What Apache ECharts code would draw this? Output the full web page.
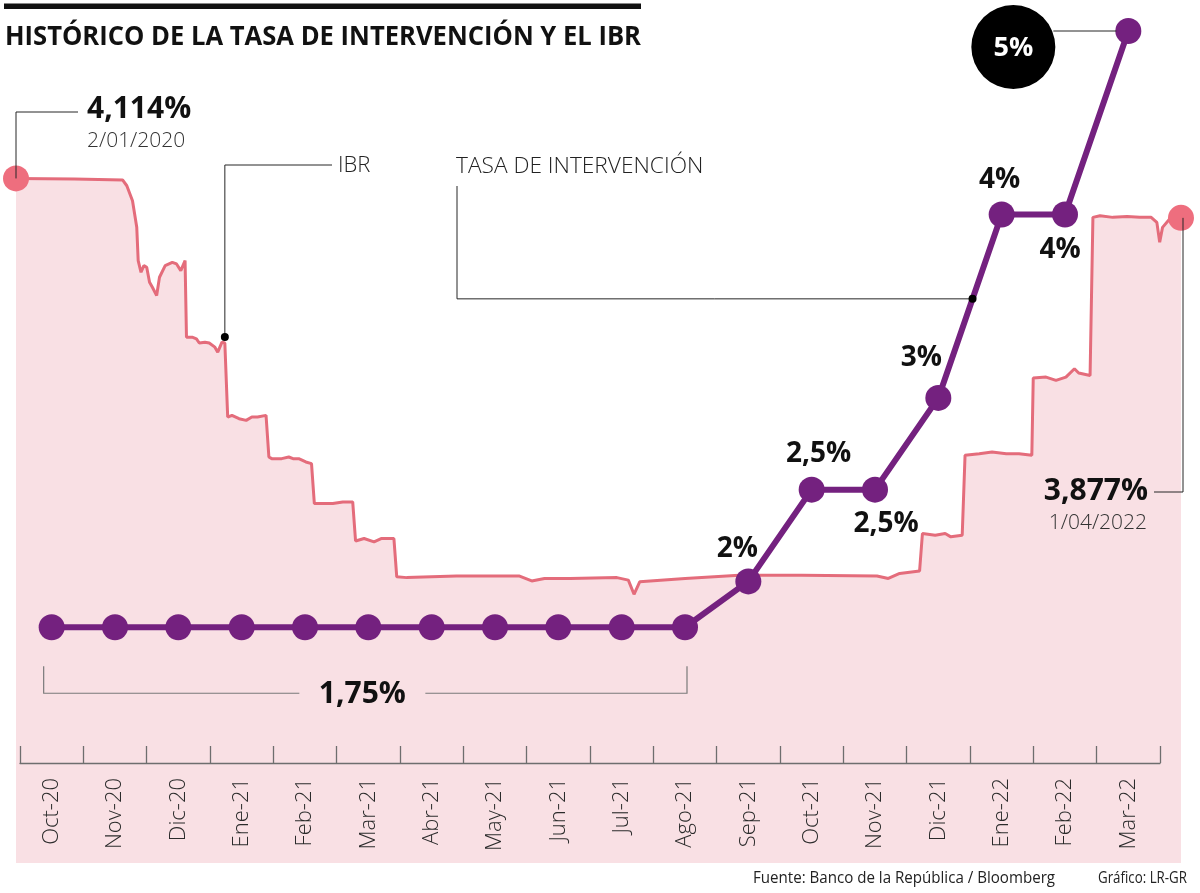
<!DOCTYPE html>
<html><head><meta charset="utf-8">
<script src="https://cdn.jsdelivr.net/npm/echarts@6/dist/echarts.min.js"></script>
<style>html,body{margin:0;padding:0;background:#fff}#c{width:1200px;height:893px}</style>
</head><body><div id="c"></div>
<script>
// ---------- DATA ----------
const months = ['Oct-20','Nov-20','Dic-20','Ene-21','Feb-21','Mar-21','Abr-21','May-21','Jun-21','Jul-21','Ago-21','Sep-21','Oct-21','Nov-21','Dic-21','Ene-22','Feb-22','Mar-22'];
const tasaValues = [1.75,1.75,1.75,1.75,1.75,1.75,1.75,1.75,1.75,1.75,1.75,2,2.5,2.5,3,4,4,5];

const ibrDates = ['2020-01-02','2020-02-12','2020-03-17','2020-03-20','2020-03-24','2020-03-27','2020-03-28','2020-03-30','2020-04-01','2020-04-03','2020-04-05','2020-04-07','2020-04-10','2020-04-12','2020-04-16','2020-04-21','2020-04-24','2020-04-27','2020-04-30',
'2020-05-01','2020-05-05','2020-05-08','2020-05-10','2020-05-14','2020-05-17','2020-05-21','2020-05-23','2020-05-26','2020-05-28',
'2020-05-30','2020-06-02','2020-06-07','2020-06-12','2020-06-16','2020-06-20','2020-06-26',
'2020-06-28','2020-06-30','2020-07-07','2020-07-12','2020-07-15','2020-07-19','2020-07-24','2020-07-28',
'2020-07-30','2020-08-05','2020-08-12','2020-08-19','2020-08-26',
'2020-08-28','2020-09-03','2020-09-10','2020-09-15','2020-09-24',
'2020-09-26','2020-10-03','2020-11-07','2020-12-21','2020-12-30','2021-01-08','2021-01-26','2021-02-28','2021-03-08','2021-03-12','2021-03-16','2021-04-17','2021-05-25','2021-07-08','2021-08-30','2021-09-07','2021-09-15','2021-09-29','2021-09-30',
'2021-10-01','2021-10-10','2021-10-17','2021-10-21','2021-10-29',
'2021-10-31','2021-11-10','2021-11-19','2021-11-29','2021-12-08','2021-12-17',
'2021-12-18','2021-12-27','2022-01-03','2022-01-10','2022-01-16','2022-01-19','2022-01-27',
'2022-01-29','2022-02-03','2022-02-12','2022-02-22','2022-03-03','2022-03-11','2022-03-15','2022-03-17','2022-03-19','2022-03-24','2022-04-01'];
const ibrValues = [4.114,4.11,4.105,4.07,3.98,3.82,3.62,3.55,3.59,3.58,3.49,3.46,3.41,3.52,3.59,3.61,3.60,3.56,3.62,
3.16,3.16,3.15,3.125,3.13,3.125,3.10,3.07,3.13,3.125,
2.68,2.69,2.67,2.66,2.68,2.68,2.69,
2.44,2.43,2.43,2.44,2.43,2.43,2.41,2.40,
2.16,2.16,2.16,2.17,2.17,
1.935,1.95,1.93,1.95,1.95,
1.72,1.715,1.725,1.725,1.695,1.71,1.71,1.715,1.70,1.615,1.69,1.71,1.73,1.73,1.725,1.71,1.74,1.755,1.76,
1.98,1.97,1.98,1.96,1.97,
2.45,2.46,2.47,2.46,2.46,2.45,
2.915,2.92,2.90,2.92,2.97,2.945,2.93,
3.88,3.89,3.88,3.885,3.88,3.88,3.85,3.73,3.82,3.87,3.877];

const titleText = 'HISTÓRICO DE LA TASA DE INTERVENCIÓN Y EL IBR';
const sourceText = 'Fuente: Banco de la República / Bloomberg';
const creditText = 'Gráfico: LR-GR';
const ibrName = 'IBR';
const tasaName = 'TASA DE INTERVENCIÓN';

// ---------- helpers ----------
const fmtPct = v => String(v).replace('.', ',') + '%';
const fmtDate = s => { const [y,m,d] = s.split('-'); return Number(d) + '/' + m + '/' + y; };
const toTime = s => { const [y,m,d] = s.split('-').map(Number); return Date.UTC(y, m-1, d); };
const ibrTimes = ibrDates.map(toTime);

const SANS = '"Open Sans", "Noto Sans", sans-serif';
const cv = document.createElement('canvas').getContext('2d');
function measure(text, font){ cv.font = font; return cv.measureText(text).width; }
function fit(text, weight, width, maxSize){ const w = measure(text, weight+' 100px '+SANS); return Math.min(maxSize, 100*width/w); }

const PURPLE = '#74217f', PINK_LINE = '#e46c7b', PINK_AREA = '#f9e0e4', PINK_DOT = '#ee6e7e';

// label placement (style config, not data)
const labelPlace = {11:[-11,-32], 12:[7,-36], 13:[11,34], 14:[-17,-40], 15:[-2,-34], 16:[-5,36]};

const tasaData = tasaValues.map((v,i) => ({
  value: v,
  label: labelPlace[i] ? {show:true, position:'inside', offset:labelPlace[i], formatter: fmtPct(v),
    fontSize:28, fontWeight:'bold', fontFamily:SANS, color:'#111'} : {show:false}
}));

const chart = echarts.init(document.getElementById('c'), null, {renderer:'canvas'});
const option = {
  animation:false,
  backgroundColor:'#ffffff',
  grid:[
    {left:16, right:19, top:31, bottom:30},
    {left:20, right:40, top:31, bottom:130}
  ],
  xAxis:[
    {type:'time', gridIndex:0, min:ibrTimes[0], max:ibrTimes[ibrTimes.length-1], show:false},
    {type:'category', gridIndex:1, data:months, boundaryGap:true, z:10,
      axisLine:{show:true, lineStyle:{color:'#6e6e6e', width:1.3}},
      axisTick:{show:true, inside:true, length:17, interval:0, lineStyle:{color:'#6e6e6e', width:1.3}},
      axisLabel:{interval:0, rotate:90, margin:15, fontSize:22, fontWeight:300, fontFamily:SANS, color:'#2b2b2b'},
      splitLine:{show:false}}
  ],
  yAxis:[
    {type:'value', gridIndex:0, min:0, max:5, show:false},
    {type:'value', gridIndex:1, min:1.01, max:5, show:false}
  ],
  series:[
    {name:ibrName, type:'line', xAxisIndex:0, yAxisIndex:0, z:1, symbol:'none',
      data: ibrTimes.map((t,i)=>[t, ibrValues[i]]),
      lineStyle:{color:PINK_LINE, width:3}, areaStyle:{color:PINK_AREA, opacity:1}},
    {type:'scatter', xAxisIndex:0, yAxisIndex:0, z:2, symbolSize:26, itemStyle:{color:PINK_DOT, opacity:1},
      data:[[ibrTimes[0], ibrValues[0]], [ibrTimes[ibrTimes.length-1], ibrValues[ibrValues.length-1]]]},
    {name:tasaName, type:'line', xAxisIndex:1, yAxisIndex:1, z:3, symbol:'circle', symbolSize:26, showAllSymbol:true,
      data:tasaData, lineStyle:{color:PURPLE, width:6}, itemStyle:{color:PURPLE, opacity:1}}
  ]
};
chart.setOption(option);

// ---------- annotations anchored to data ----------
const P = i => chart.convertToPixel({xAxisIndex:1, yAxisIndex:1}, [i, tasaValues[i]]);
const I = i => chart.convertToPixel({xAxisIndex:0, yAxisIndex:0}, [ibrTimes[i], ibrValues[i]]);
const last = ibrValues.length-1;
const ln = {stroke:'#262626', lineWidth:1, fill:null};
const g = [];
const txt = (x,y,text,font,align,color) => ({type:'text', z:100, style:{x, y, text, font, align:align||'left', verticalAlign:'middle', fill:color||'#111'}});
// condensed text: natural font squeezed horizontally to a target width
const sq = (x,y,text,weight,size,width,align,color) => {
  const font = weight+' '+size+'px '+SANS;
  const s = Math.min(1, width / measure(text, font));
  return {type:'text', z:100, x, y, scaleX:s, scaleY:1,
    style:{x:0, y:0, text, font, align:align||'left', verticalAlign:'middle', fill:color||'#111'}};
};

// title
g.push({type:'rect', z:100, shape:{x:4, y:3.5, width:637, height:5.5}, style:{fill:'#111'}});
g.push(sq(5, 37, titleText, 'bold', 27.5, 636));

// start IBR
const A = I(0);
g.push({type:'polyline', z:100, shape:{points:[[A[0],A[1]],[A[0],112],[78,112]]}, style:ln});
g.push(txt(87, 109, fmtPct(ibrValues[0]), 'bold 30px '+SANS));
g.push(txt(87, 141, fmtDate(ibrDates[0]), '300 21px '+SANS, 'left', '#333'));

// IBR name
const bi = ibrDates.indexOf('2020-05-28');
const B = I(bi);
g.push({type:'polyline', z:100, shape:{points:[[B[0],B[1]-6],[B[0],165],[332,165]]}, style:ln});
g.push({type:'circle', z:100, shape:{cx:B[0], cy:B[1]-6, r:4}, style:{fill:'#000'}});
g.push(txt(338, 166, ibrName, '300 22px '+SANS, 'left', '#222'));

// Tasa name
const p14 = P(14), p15 = P(15), tt = 0.54;
const C = [p14[0]+(p15[0]-p14[0])*tt, p14[1]+(p15[1]-p14[1])*tt];
g.push({type:'polyline', z:100, shape:{points:[[C[0],C[1]],[457,C[1]],[457,186]]}, style:ln});
g.push({type:'circle', z:100, shape:{cx:C[0], cy:C[1], r:4}, style:{fill:'#000'}});
g.push(txt(456, 167, tasaName, '300 '+fit(tasaName,'300',247,23).toFixed(1)+'px '+SANS, 'left', '#222'));

// 5% bubble
const D = P(17);
const cc = [D[0]-115, D[1]+16];
g.push({type:'line', z:100, shape:{x1:cc[0]+40, y1:D[1], x2:D[0]-12, y2:D[1]}, style:{stroke:'#262626', lineWidth:1}});
g.push({type:'circle', z:100, shape:{cx:cc[0], cy:cc[1], r:42}, style:{fill:'#000'}});
g.push(txt(cc[0], cc[1]+1, fmtPct(tasaValues[17]), 'bold 27px '+SANS, 'center', '#fff'));

// end IBR
const E = I(last);
g.push({type:'polyline', z:100, shape:{points:[[E[0]+2,E[1]],[E[0]+2,492],[1154,492]]}, style:ln});
g.push(txt(1148, 491, fmtPct(ibrValues[last]), 'bold 30px '+SANS, 'right'));
g.push(txt(1147, 523, fmtDate(ibrDates[last]), '300 21px '+SANS, 'right', '#333'));

// 1,75% bracket
const P0 = P(0), P10 = P(10);
const bl = P0[0]-8, br = P10[0]+2, by = P0[1]+66, bt = P0[1]+39, cx = (bl+br)/2;
const bst = {stroke:'#7a7a7a', lineWidth:1.2, fill:null};
g.push({type:'polyline', z:100, shape:{points:[[bl,bt],[bl,by],[cx-66,by]]}, style:bst});
g.push({type:'polyline', z:100, shape:{points:[[cx+60,by],[br,by],[br,bt]]}, style:bst});
g.push(txt(cx-3, by+1, fmtPct(tasaValues[0]), 'bold 30px '+SANS, 'center'));

// footer
g.push(sq(753, 878, sourceText, 'normal', 16, 302, 'left', '#222'));
g.push(sq(1098, 878, creditText, 'normal', 16, 89, 'left', '#222'));

chart.setOption({graphic:{elements:g}});
</script>
</body></html>
